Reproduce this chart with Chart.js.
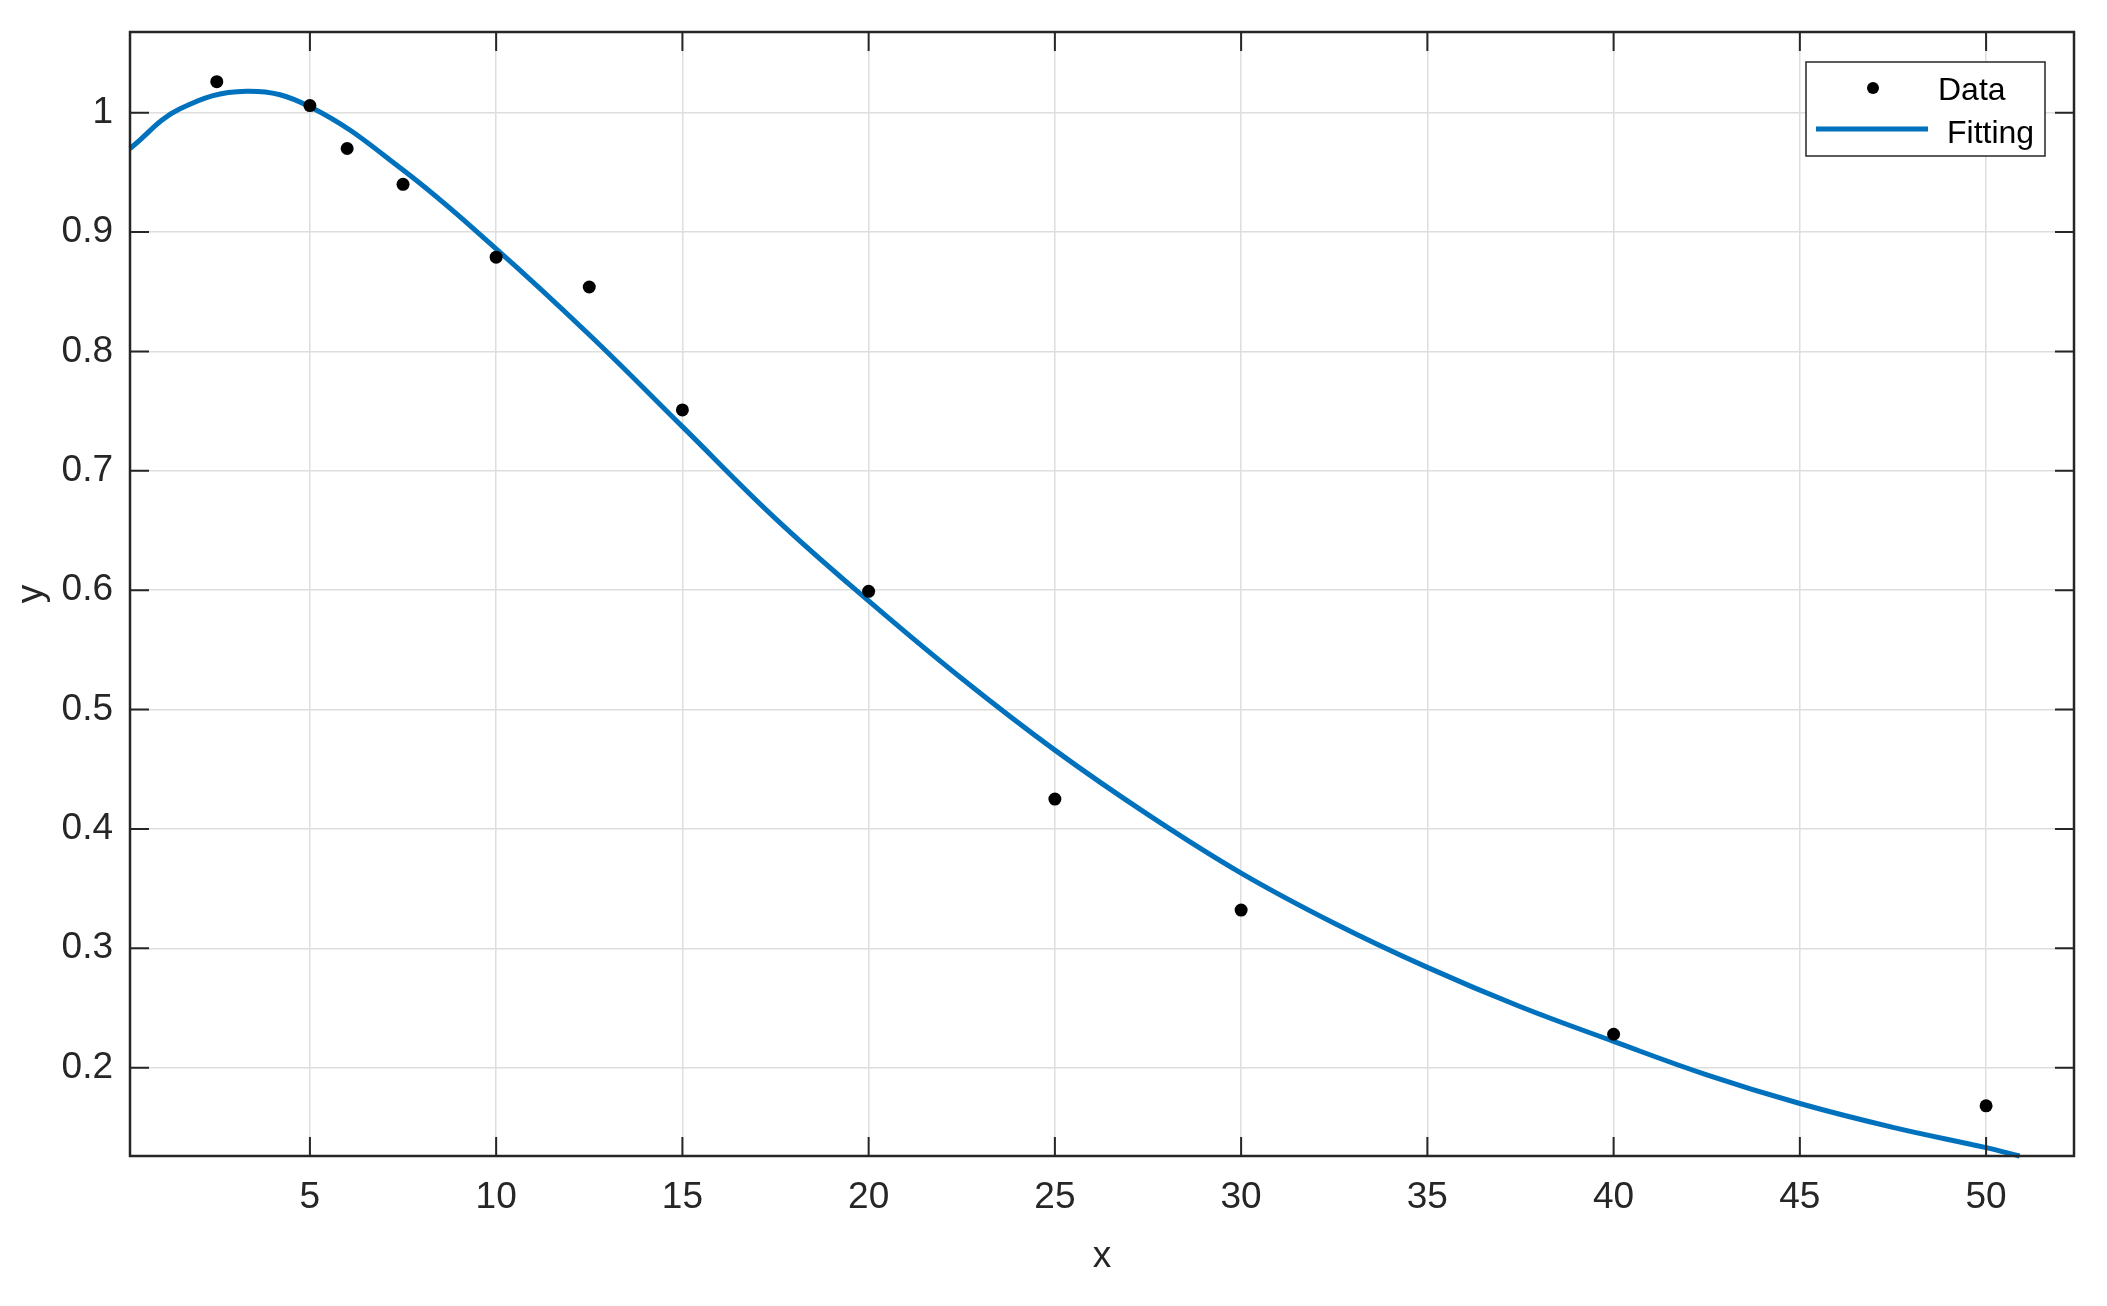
<!DOCTYPE html>
<html lang="en">
<head>
  <meta charset="UTF-8">
  <title>Data and Fitting</title>
  <script src="https://cdn.jsdelivr.net/npm/chart.js"></script>
  <style>
    body { margin: 0; background: #ffffff; }
    canvas { display: block; }
  </style>
</head>
<body>
  <canvas id="fitChart" width="2107" height="1306"></canvas>

  <script>
    // measured points
    const dataX = [2.5, 5, 6, 7.5, 10, 12.5, 15, 20, 25, 30, 40, 50];
    const dataY = [1.026, 1.006, 0.970, 0.940, 0.879, 0.854, 0.751, 0.599, 0.425, 0.332, 0.228, 0.168];

    // fitted curve
    const fitX = [0.17, 1.5, 3.3, 5, 7.5, 10, 12.5, 15, 17.5, 20, 22.5, 25, 27.5, 30, 32.5, 35, 37.5, 40, 42.5, 45, 47.5, 50, 50.9];
    const fitY = [0.970, 1.003, 1.018, 1.005, 0.952, 0.886, 0.814, 0.737, 0.660, 0.591, 0.526, 0.466, 0.412, 0.363, 0.321, 0.284, 0.251, 0.222, 0.194, 0.170, 0.150, 0.133, 0.126];

    // axis ticks
    const xTicks = [5, 10, 15, 20, 25, 30, 35, 40, 45, 50];
    const yTicks = [0.2, 0.3, 0.4, 0.5, 0.6, 0.7, 0.8, 0.9, 1];
    const yTickLabels = ['0.2', '0.3', '0.4', '0.5', '0.6', '0.7', '0.8', '0.9', '1'];

    const axisColor = '#262626';
    const gridColor = '#dedede';
    const fontFamily = '"Liberation Sans", Arial, sans-serif';

    // box around plot, inward ticks on all four sides, and the legend
    const boxPlugin = {
      id: 'boxPlugin',
      afterDatasetsDraw(chart) {
        const { ctx, chartArea: a, scales } = chart;
        const tl = 19;
        ctx.save();
        ctx.strokeStyle = axisColor;
        ctx.lineWidth = 2.5;
        ctx.strokeRect(a.left, a.top, a.right - a.left, a.bottom - a.top);
        ctx.lineWidth = 2;
        ctx.beginPath();
        xTicks.forEach(v => {
          const px = scales.x.getPixelForValue(v);
          ctx.moveTo(px, a.bottom); ctx.lineTo(px, a.bottom - tl);
          ctx.moveTo(px, a.top); ctx.lineTo(px, a.top + tl);
        });
        yTicks.forEach(v => {
          const py = scales.y.getPixelForValue(v);
          ctx.moveTo(a.left, py); ctx.lineTo(a.left + tl, py);
          ctx.moveTo(a.right, py); ctx.lineTo(a.right - tl, py);
        });
        ctx.stroke();

        // legend
        const bx = a.right - 268, by = a.top + 30, bw = 239, bh = 94;
        ctx.fillStyle = '#ffffff';
        ctx.fillRect(bx, by, bw, bh);
        ctx.lineWidth = 1.5;
        ctx.strokeRect(bx, by, bw, bh);

        ctx.fillStyle = '#000000';
        ctx.beginPath();
        ctx.arc(bx + 67, by + 26, 6, 0, Math.PI * 2);
        ctx.fill();

        ctx.strokeStyle = '#0072BD';
        ctx.lineWidth = 5;
        ctx.beginPath();
        ctx.moveTo(bx + 10, by + 67);
        ctx.lineTo(bx + 122, by + 67);
        ctx.stroke();

        ctx.fillStyle = '#000000';
        ctx.font = '32px ' + fontFamily;
        ctx.textBaseline = 'alphabetic';
        ctx.textAlign = 'left';
        ctx.fillText('Data', bx + 132, by + 38);
        ctx.fillText('Fitting', bx + 141, by + 81);
        ctx.restore();
      }
    };

    const chart = new Chart(document.getElementById('fitChart'), {
      type: 'scatter',
      data: {
        datasets: [
          {
            label: 'Data',
            data: dataX.map((x, i) => ({ x: x, y: dataY[i] })),
            pointRadius: 6.5,
            pointBackgroundColor: '#000000',
            pointBorderWidth: 0,
            showLine: false,
            order: 1
          },
          {
            label: 'Fitting',
            data: fitX.map((x, i) => ({ x: x, y: fitY[i] })),
            showLine: true,
            borderColor: '#0072BD',
            borderWidth: 5,
            pointRadius: 0,
            tension: 0.4,
            fill: false,
            clip: false,
            order: 2
          }
        ]
      },
      options: {
        responsive: false,
        animation: false,
        layout: { padding: { top: 32, right: 33, left: 0, bottom: 0 } },
        plugins: {
          legend: { display: false },
          tooltip: { enabled: false }
        },
        scales: {
          x: {
            type: 'linear',
            min: 0.17,
            max: 52.36,
            afterBuildTicks: s => { s.ticks = xTicks.map(v => ({ value: v })); },
            afterFit: s => { s.height = 150; s.paddingLeft = 0; s.paddingRight = 0; },
            border: { display: false },
            grid: { color: gridColor, lineWidth: 1.5, drawTicks: false },
            ticks: {
              color: axisColor,
              padding: 20,
              maxRotation: 0,
              font: { family: fontFamily, size: 37 },
              callback: v => String(v)
            },
            title: {
              display: true,
              text: 'x',
              color: axisColor,
              font: { family: fontFamily, size: 37 },
              padding: { top: 0, bottom: 27 }
            }
          },
          y: {
            type: 'linear',
            min: 0.126,
            max: 1.0676,
            afterBuildTicks: s => { s.ticks = yTicks.map(v => ({ value: v })); },
            afterFit: s => { s.width = 130; s.paddingTop = 0; s.paddingBottom = 0; },
            border: { display: false },
            grid: { color: gridColor, lineWidth: 1.5, drawTicks: false },
            ticks: {
              color: axisColor,
              padding: 17,
              font: { family: fontFamily, size: 37 },
              callback: (v) => yTickLabels[yTicks.findIndex(t => Math.abs(t - v) < 1e-6)]
            },
            title: {
              display: true,
              text: 'y',
              color: axisColor,
              font: { family: fontFamily, size: 37 },
              padding: { top: 10, bottom: 0 }
            }
          }
        }
      },
      plugins: [boxPlugin]
    });
  </script>
</body>
</html>
